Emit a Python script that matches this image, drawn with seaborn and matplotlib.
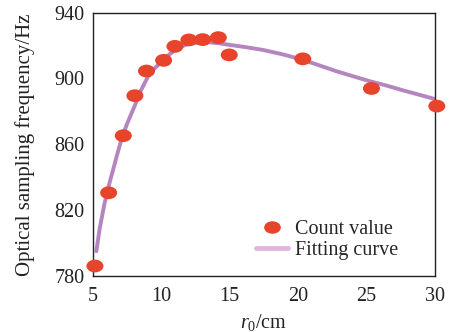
import numpy as np
import pandas as pd
import matplotlib
matplotlib.use("Agg")
import matplotlib.pyplot as plt
from matplotlib.path import Path
from matplotlib.transforms import Affine2D
from matplotlib.lines import Line2D
import seaborn as sns

# Measured count values
r0 = [5.15, 6.15, 7.22, 8.07, 8.92, 10.17, 11.0, 12.02, 13.02, 14.17, 14.97, 20.35, 25.37, 30.15]
freq = [786.0, 830.5, 865.2, 889.5, 904.5, 911.0, 919.5, 923.4, 923.6, 924.8, 914.3, 911.9, 893.9, 883.2]

# Fitting curve
fit_r0 = [5.25, 5.5, 5.85, 6.15, 6.46, 6.75, 7.07, 7.5, 8.04, 8.5, 9.02, 9.5, 10.0, 10.5, 10.97,
          11.5, 12.0, 12.7, 13.43, 14.2, 15.0, 16.2, 17.45, 18.9, 20.37, 21.6, 22.8, 24.0, 25.25,
          26.5, 27.7, 28.9, 30.0]
fit_freq = [795.0, 809.0, 824.0, 834.5, 844.0, 853.0, 862.5, 872.5, 883.0, 892.5, 901.0, 906.0, 910.0,
            914.0, 917.0, 919.5, 921.0, 921.8, 922.0, 921.4, 920.4, 919.0, 917.3, 914.6, 911.3,
            907.8, 904.4, 901.4, 898.3, 895.6, 892.7, 890.0, 887.5]

x_ticks = [5, 10, 15, 20, 25, 30]
y_ticks = [780, 820, 860, 900, 940]

sns.set_theme(style="white")
plt.rcParams['font.family'] = ['Liberation Serif', 'DejaVu Serif']
plt.rcParams['mathtext.fontset'] = 'custom'
plt.rcParams['mathtext.rm'] = 'Liberation Serif'
plt.rcParams['mathtext.it'] = 'Liberation Serif:italic'

fig = plt.figure(figsize=(4.51, 3.32), dpi=100)
ax = fig.add_axes([0.206, 0.169, 0.758, 0.793])

pts = pd.DataFrame({"r0": r0, "freq": freq})
fit = pd.DataFrame({"r0": fit_r0, "freq": fit_freq})

ellipse = Path.unit_circle().transformed(Affine2D().scale(1.0, 0.75))

sns.lineplot(data=fit, x="r0", y="freq", ax=ax, color="#B585C0", lw=2.8,
             sort=False, zorder=2, label="_nolegend_")
sns.scatterplot(data=pts, x="r0", y="freq", ax=ax, marker=ellipse, s=150,
                color="#E8432B", edgecolor="none", zorder=3, clip_on=False, label="_nolegend_")

ax.set_xlim(5, 30)
ax.set_ylim(780, 940)
ax.set_xticks(x_ticks)
ax.set_yticks(y_ticks)
ax.tick_params(direction="in", length=3, width=0.8, labelsize=14.5, colors="#222222", pad=6)
ax.tick_params(axis="x", pad=8)
for s in ax.spines.values():
    s.set_color("#222222")
    s.set_linewidth(1.0)

ax.set_xlabel(r"$r_{\mathrm{0}}$/cm", fontsize=14.5, color="#222222", labelpad=4)
ax.set_ylabel("Optical sampling frequency/Hz", fontsize=15, color="#222222", labelpad=14)

h1 = Line2D([], [], marker=ellipse, color="#E8432B", markersize=12, lw=0, markeredgewidth=0)
h2 = Line2D([], [], color="#E0B6DC", lw=3.5)
ax.legend([h1, h2], ["Count value", "Fitting curve"], loc="upper left",
          bbox_to_anchor=(0.447, 0.25), frameon=False, fontsize=14.5,
          handlelength=1.6, handletextpad=0.35, labelspacing=0.1, borderpad=0)

fig.savefig("out.png", dpi=100)
